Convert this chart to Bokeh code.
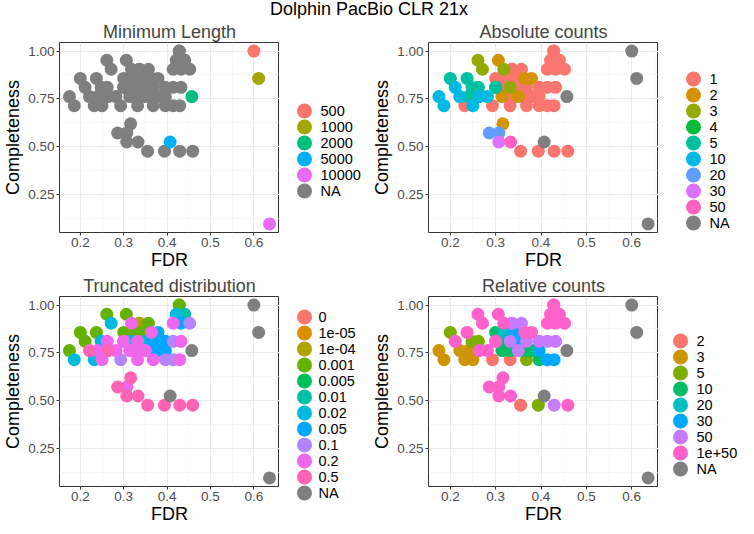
from bokeh.plotting import figure
from bokeh.models import (FixedTicker, Range1d, Div, PrintfTickFormatter,
                          ColumnDataSource)
from bokeh.core.properties import value
from bokeh.layouts import column, row
from bokeh.embed import file_html
from bokeh.resources import INLINE

FONT = "Liberation Sans"

# ---- data: one row per run (runs varying the count/distribution filters) ----
fdr = [0.428, 0.428, 0.261, 0.306, 0.421, 0.440, 0.440,
       0.271, 0.318, 0.336, 0.336, 0.357, 0.414, 0.432, 0.452,
       0.200, 0.237, 0.300, 0.318, 0.340, 0.364, 0.379,
       0.211, 0.248, 0.262, 0.300, 0.300, 0.318, 0.332, 0.352, 0.368, 0.396, 0.414, 0.432,
       0.175, 0.221, 0.240, 0.264, 0.282, 0.314, 0.332, 0.350, 0.368, 0.382, 0.396,
       0.186, 0.232, 0.250, 0.293, 0.332, 0.368, 0.396, 0.414, 0.429,
       0.316, 0.286, 0.307, 0.307, 0.333,
       0.355, 0.394, 0.429, 0.459]
completeness = [1.000, 1.000, 0.952, 0.952, 0.952, 0.952, 0.952,
                0.905, 0.905, 0.905, 0.905, 0.905, 0.905, 0.905, 0.905,
                0.857, 0.857, 0.857, 0.857, 0.857, 0.857, 0.857,
                0.810, 0.810, 0.810, 0.810, 0.810, 0.810, 0.810, 0.810, 0.810, 0.810, 0.810, 0.810,
                0.762, 0.762, 0.762, 0.762, 0.762, 0.762, 0.762, 0.762, 0.762, 0.762, 0.762,
                0.714, 0.714, 0.714, 0.714, 0.714, 0.714, 0.714, 0.714, 0.714,
                0.619, 0.571, 0.571, 0.524, 0.524,
                0.476, 0.476, 0.476, 0.476]
abs_counts = ["1", "1", "3", "2", "1", "1", "1",
              "3", "3", "1", "1", "1", "1", "1", "1",
              "5", "5", "1", "1", "1", "2", "2",
              "10", "5", "5", "4", "5", "1", "3", "1", "1", "1", "1", "1",
              "10", "10", "5", "10", "10", "2", "1", "2", "1", "1", "1",
              "10", "1", "10", "1", "1", "1", "1", "1", "1",
              "2", "20", "20", "30", "50",
              "1", "1", "1", "1"]
trunc_dist = ["0", "0.001", "0.001", "0.001", "0.02", "0.005", "0.01",
              "0.02", "0.2", "1e-05", "1e-04", "0.001", "0.2", "0.05", "0.1",
              "0.001", "0.001", "0.001", "0.001", "0.001", "0.2", "0.05",
              "0.001", "0.02", "0.2", "0.2", "0.2", "0.02", "0.2", "0.02", "0.05", "0.05", "0.1", "0.2",
              "0.001", "0.5", "0.2", "0.5", "0.2", "0.2", "0.2", "0.2", "0.05", "0.05", "0.05",
              "0.02", "0.02", "0.2", "0.1", "0.2", "0.2", "0.1", "0.1", "0.2",
              "0.5", "0.5", "0.2", "0.5", "0.5",
              "0.5", "0.5", "0.5", "0.5"]
rel_counts = ["1e+50", "1e+50", "1e+50", "1e+50", "1e+50", "1e+50", "1e+50",
              "1e+50", "1e+50", "50", "50", "50", "1e+50", "1e+50", "1e+50",
              "5", "1e+50", "10", "20", "30", "1e+50", "1e+50",
              "1e+50", "5", "5", "1e+50", "1e+50", "10", "50", "30", "50", "50", "50", "50",
              "3", "3", "3", "1e+50", "1e+50", "10", "10", "50", "10", "10", "30",
              "3", "3", "3", "2", "2", "5", "10", "30", "30",
              "1e+50", "1e+50", "1e+50", "1e+50", "1e+50",
              "2", "5", "50", "1e+50"]

# ---- runs varying the minimum read length (all other filters NA) ----
ml_fdr = [0.600, 0.611, 0.457, 0.407, 0.636]
ml_completeness = [1.000, 0.857, 0.762, 0.524, 0.095]
ml_values = ["500", "1000", "2000", "5000", "10000"]

# ---- legend levels and palettes ----
ml_levels = ["500", "1000", "2000", "5000", "10000"]
ml_palette = ["#F8766D", "#A3A500", "#00BF7D", "#00B0F6", "#E76BF3"]
abs_levels = ["1", "2", "3", "4", "5", "10", "20", "30", "50"]
abs_palette = ["#F8766D", "#D39200", "#93AA00", "#00BA38", "#00C19F",
               "#00B9E3", "#619CFF", "#DB72FB", "#FF61C3"]
trunc_levels = ["0", "1e-05", "1e-04", "0.001", "0.005", "0.01", "0.02",
                "0.05", "0.1", "0.2", "0.5"]
trunc_palette = ["#F8766D", "#DB8E00", "#AEA200", "#64B200", "#00BD5C",
                 "#00C1A7", "#00BADE", "#00A6FF", "#B385FF", "#EF67EB", "#FF63B6"]
rel_levels = ["2", "3", "5", "10", "20", "30", "50", "1e+50"]
rel_palette = ["#F8766D", "#CD9600", "#7CAE00", "#00BE67", "#00BFC4",
               "#00A9FF", "#C77CFF", "#FF61CC"]
NA_COLOR = "#7F7F7F"

x_all = fdr + ml_fdr
y_all = completeness + ml_completeness
n_main = len(fdr)
n_ml = len(ml_fdr)

ROW_H = 254
LEG_CENTER = 132.5   # px from top of a row: plot-frame centre + 14
LEG_PITCH = 16


def make_plot(title, labels, levels, palette, width, min_left, na_first):
    p = figure(width=width, height=ROW_H, output_backend="svg",
               toolbar_location=None,
               x_range=Range1d(0.152, 0.659), y_range=Range1d(0.050, 1.045),
               min_border_left=min_left, min_border_right=0,
               min_border_top=0, min_border_bottom=0)
    p.title.text = title
    p.title.text_font = FONT
    p.title.text_font_size = "18px"
    p.title.text_font_style = "normal"
    p.title.align = "center"
    p.title.standoff = 2

    p.outline_line_color = "#333333"
    p.outline_line_width = 1

    p.xaxis.ticker = FixedTicker(ticks=[0.2, 0.3, 0.4, 0.5, 0.6],
                                 minor_ticks=[0.15, 0.25, 0.35, 0.45, 0.55, 0.65])
    p.yaxis.ticker = FixedTicker(ticks=[0.25, 0.5, 0.75, 1.0],
                                 minor_ticks=[0.125, 0.375, 0.625, 0.875])
    p.xaxis.formatter = PrintfTickFormatter(format="%.1f")
    p.yaxis.formatter = PrintfTickFormatter(format="%.2f")
    p.xaxis.axis_label = "FDR"
    p.yaxis.axis_label = "Completeness"
    for ax in (p.xaxis, p.yaxis):
        ax.axis_line_color = None
        ax.major_tick_out = 3
        ax.major_tick_in = 0
        ax.minor_tick_out = 0
        ax.minor_tick_in = 0
        ax.major_tick_line_color = "#333333"
        ax.major_label_text_font = FONT
        ax.major_label_text_font_size = "13.5px"
        ax.major_label_text_color = "#4D4D4D"
        ax.major_label_standoff = 2
        ax.axis_label_text_font = FONT
        ax.axis_label_text_font_size = "18px"
        ax.axis_label_text_font_style = "normal"
        ax.axis_label_text_color = "black"
    p.xaxis.axis_label_standoff = 0
    p.yaxis.axis_label_standoff = 2

    p.grid.grid_line_color = "#EBEBEB"
    p.grid.grid_line_width = 1
    p.grid.minor_grid_line_color = "#F3F3F3"
    p.grid.minor_grid_line_width = 0.6

    order = (["NA"] + levels) if na_first else (levels + ["NA"])
    for lv in order:
        idx = [i for i, l in enumerate(labels) if l == lv]
        col = NA_COLOR if lv == "NA" else palette[levels.index(lv)]
        p.scatter([x_all[i] for i in idx], [y_all[i] for i in idx],
                  marker="circle", size=13, fill_color=col, line_color=None)
    return p


def make_legend(levels, palette, leg_width, key_x, label_x):
    leg_labels = levels + ["NA"]
    leg_colors = palette + [NA_COLOR]
    n = len(leg_labels)
    ys = [LEG_CENTER + (i - (n - 1) / 2) * LEG_PITCH for i in range(n)]
    src = ColumnDataSource(dict(y=ys, label=leg_labels, color=leg_colors))
    lg = figure(width=leg_width, height=ROW_H, output_backend="svg",
                toolbar_location=None, x_range=Range1d(0, leg_width),
                y_range=Range1d(ROW_H, 0), x_axis_type=None, y_axis_type=None,
                min_border_left=0, min_border_right=0, min_border_top=0,
                min_border_bottom=0)
    lg.outline_line_color = None
    lg.grid.visible = False
    lg.scatter(x=key_x, y="y", source=src, marker="circle", size=15,
               fill_color="color", line_color=None)
    lg.text(x=label_x, y="y", text="label", source=src,
            text_font=value(FONT), text_font_size="14.5px",
            text_baseline="middle", text_align="left", text_color="black")
    return lg


ml_labels = ["NA"] * n_main + ml_values
abs_labels = abs_counts + ["NA"] * n_ml
trunc_labels = trunc_dist + ["NA"] * n_ml
rel_labels = rel_counts + ["NA"] * n_ml

p1 = make_plot("Minimum Length", ml_labels, ml_levels, ml_palette, 279, 54, True)
p2 = make_plot("Absolute counts", abs_labels, abs_levels, abs_palette, 292, 62, False)
p3 = make_plot("Truncated distribution", trunc_labels, trunc_levels,
               trunc_palette, 279, 54, False)
p4 = make_plot("Relative counts", rel_labels, rel_levels, rel_palette, 292, 62, False)

l1 = make_legend(ml_levels, ml_palette, 87, 25, 41)
l2 = make_legend(abs_levels, abs_palette, 80, 35, 51)
l3 = make_legend(trunc_levels, trunc_palette, 87, 25, 39)
l4 = make_legend(rel_levels, rel_palette, 80, 22, 38)

title = Div(text="Dolphin PacBio CLR 21x", width=738, height=18, margin=0,
            styles={"text-align": "center", "font-family": FONT,
                    "font-size": "18px", "line-height": "18px",
                    "color": "black"})

layout = column(title, row(column(p1, p3), column(l1, l3),
                           column(p2, p4), column(l2, l4)))

open("out.html", "w").write(file_html(layout, INLINE))
